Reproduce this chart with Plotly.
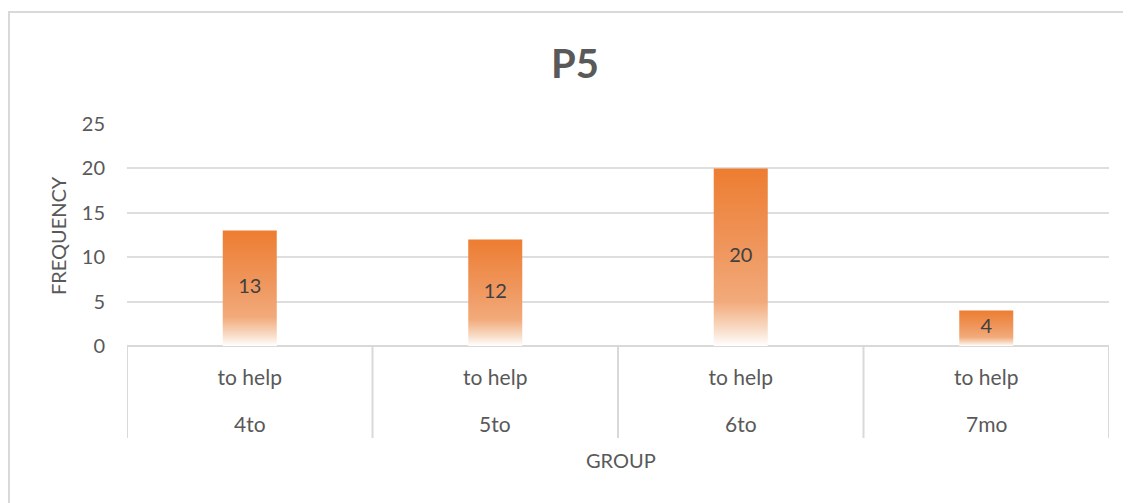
import plotly.graph_objects as go

# ---- data ----
groups = ["4to", "5to", "6to", "7mo"]
sublabel = ["to help", "to help", "to help", "to help"]
frequency = [13, 12, 20, 4]
title_text = "P5"
y_title = "FREQUENCY"
x_title = "GROUP"
y_ticks = [0, 5, 10, 15, 20, 25]

TXT = "#595959"
GRID = "#DEDEDE"
LINE = "#D9D9D9"
FONT = "Lato, Carlito, 'Liberation Sans', sans-serif"
BAR_HALF = 0.11
FS = 20
FSX = 21

# page has an 8px body margin, so the figure is drawn 8px in from the window edge
W, H = 1123, 495
L, R, T, B = 119, 22, 116, 157
PH = H - T - B  # 222
PW = W - L - R  # 982

fig = go.Figure()

for i, (g, v) in enumerate(zip(groups, frequency)):
    fig.add_trace(go.Scatter(
        x=[i - BAR_HALF, i + BAR_HALF, i + BAR_HALF, i - BAR_HALF, i - BAR_HALF],
        y=[0, 0, v, v, 0],
        mode="lines",
        line=dict(width=0),
        fill="toself",
        fillgradient=dict(
            type="vertical",
            colorscale=[[0, "#FFFFFF"], [0.1, "#F8DAC4"], [0.25, "#F2AA7A"],
                        [0.55, "#EF965D"], [1, "#ED7D31"]],
        ),
        hoverinfo="skip",
        showlegend=False,
    ))

fig.add_trace(go.Scatter(
    x=list(range(len(groups))),
    y=[v / 2 for v in frequency],
    mode="text",
    text=[str(v) for v in frequency],
    textfont=dict(family=FONT, size=FS, color="#404040"),
    hoverinfo="skip",
    showlegend=False,
))

annotations = [
    dict(text=y_title, xref="paper", yref="paper", x=(58 - 127) / PW, y=0.495,
         textangle=-90, showarrow=False, xanchor="center", yanchor="middle",
         font=dict(family=FONT, size=FS, color=TXT)),
    dict(text=x_title, xref="paper", yref="paper", x=(621 - 127) / PW,
         y=1 - (460 - 124) / PH, showarrow=False, xanchor="center", yanchor="middle",
         font=dict(family=FONT, size=FS, color=TXT)),
]
for i, g in enumerate(groups):
    annotations.append(dict(text=g, xref="x", yref="paper", x=i,
                            y=1 - (423 - 124) / PH, showarrow=False,
                            xanchor="center", yanchor="middle",
                            font=dict(family=FONT, size=FSX, color=TXT)))

fig.update_layout(
    width=W, height=H,
    margin=dict(l=L, r=R, t=T, b=B),
    paper_bgcolor="white", plot_bgcolor="white",
    font=dict(family=FONT, color=TXT, size=FS),
    title=dict(text="<b>" + title_text + "</b>", x=567 / W, xanchor="center",
               y=1 - 55.5 / H, yanchor="middle",
               font=dict(family=FONT, size=40, color=TXT)),
    xaxis=dict(
        range=[-0.5, len(groups) - 0.5],
        tickvals=list(range(len(groups))),
        ticktext=sublabel,
        showgrid=False, zeroline=False,
        showline=False,
        ticks="", ticklabelstandoff=17,
        tickfont=dict(family=FONT, size=FSX, color=TXT),
        fixedrange=True,
    ),
    yaxis=dict(
        range=[0, 25],
        tickvals=y_ticks,
        showgrid=True, gridcolor=GRID, gridwidth=1.5,
        zeroline=True, zerolinecolor=LINE, zerolinewidth=2,
        showline=False, ticks="", ticklabelstandoff=21,
        tickfont=dict(family=FONT, size=FS, color=TXT),
        fixedrange=True,
    ),
    annotations=annotations,
    shapes=[
        dict(type="rect", xref="paper", yref="paper",
             x0=(9 - 127) / PW, x1=(1140 - 127) / PW,
             y0=1 - (515 - 124) / PH, y1=1 + (124 - 12) / PH,
             line=dict(color=LINE, width=2), layer="below"),
    ] + [
        dict(type="line", xref="x", yref="paper", x0=k - 0.5, x1=k - 0.5,
             y0=0, y1=1 - (438 - 124) / PH, line=dict(color=LINE, width=2))
        for k in range(len(groups) + 1)
    ],
)

fig.write_html("out.html")
